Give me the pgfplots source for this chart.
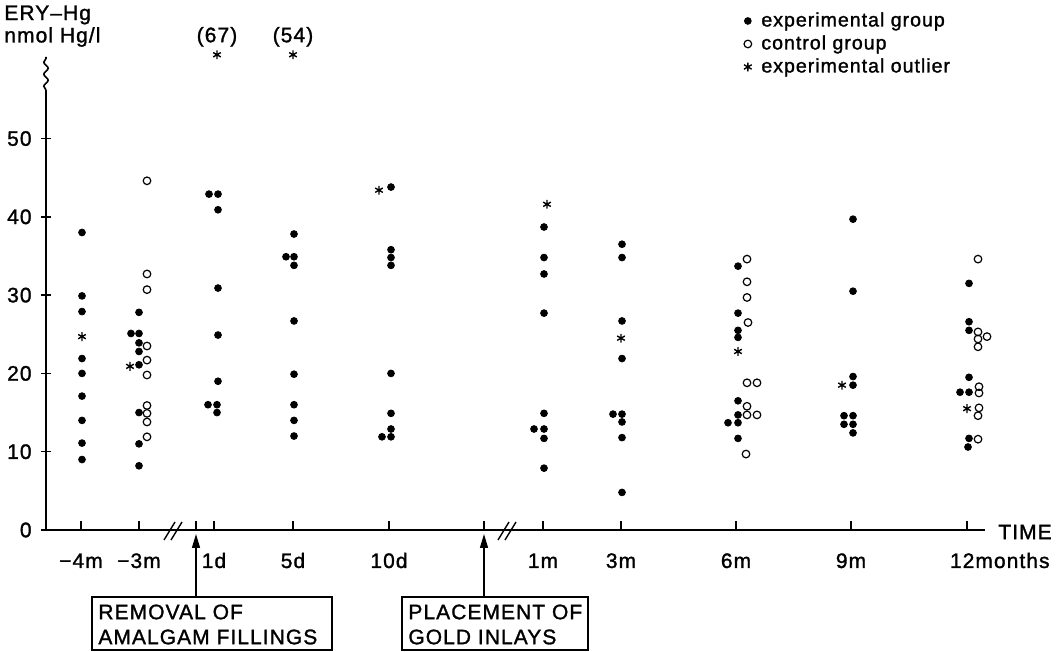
\documentclass[border=0pt]{standalone}
\usepackage{pgfplots}
\usepackage{pgfplotstable}
\pgfplotsset{compat=1.18}
\usepackage{fontspec}
\setmainfont{Liberation Sans}[LetterSpace=5, FakeBold=1.3]
\usetikzlibrary{arrows.meta,decorations.pathmorphing}

\pgfplotstableread{
x y
82 38.0
82 29.9
82 27.9
82 21.9
82 20.0
82 17.1
82 14.0
82 11.1
82 9.0
139 27.8
139 25.1
131 25.1
139 23.9
139 22.8
139 21.1
139 15.0
139 11.0
139 8.2
209 42.9
218 42.9
218 40.9
218 30.9
218 24.9
218 19.0
208 16.0
217 16.0
217 15.0
294 37.8
286 34.9
294 34.9
294 33.8
294 26.7
294 19.9
294 16.0
294 14.0
294 12.0
391 43.8
391 35.8
391 34.8
391 33.8
391 20.0
391 14.9
391 12.9
382 11.9
391 11.9
544 38.7
544 34.8
544 32.7
544 27.7
544 14.9
534 12.9
544 12.9
544 11.7
544 7.9
622 36.5
622 34.8
622 26.7
622 21.9
613 14.8
622 14.8
622 13.8
622 11.8
622 4.8
738 33.7
738 27.7
738 25.5
738 24.6
738 16.5
738 14.7
728 13.7
738 13.7
738 11.7
853 39.7
853 30.5
853 19.6
853 18.5
844 14.6
853 14.6
844 13.5
853 13.5
853 12.4
969 31.5
969 26.6
969 25.5
969 19.5
960 17.6
969 17.6
969 11.7
968 10.6
}\expdata

\pgfplotstableread{
x y
147 44.6
147 32.7
147 30.7
147 23.5
147 21.7
147 19.8
147 15.9
147 14.9
147 13.8
147 11.9
747 34.6
747 31.7
747 29.7
748 26.5
747 18.8
757 18.8
747 15.8
747 14.7
757 14.7
746 9.7
978 34.6
978 25.3
987 24.7
978 24.4
978 23.4
979 18.3
979 17.5
979 15.6
978 14.6
978 11.6
}\ctrldata

\pgfplotstableread{
x y
82 24.7
130 20.9
217 60.7
293 60.7
379 43.4
547 41.6
621 24.5
738 22.8
842 18.5
967 15.5
}\outdata

\begin{document}
\fontsize{10.5}{12.6}\selectfont
\begin{tikzpicture}
\path[use as bounding box] (0,0) rectangle (532pt,326pt);
\begin{axis}[
  at={(23pt,61pt)}, anchor=south west,
  scale only axis, width=469.5pt, height=220pt,
  xmin=46, xmax=985, ymin=0, ymax=56.2,
  axis lines=left, axis line style={-, line width=0.8pt},
  clip=false,
  tick align=inside,
  major tick length=4.5pt,
  every tick/.style={black, line width=0.7pt},
  xtick={81,139,196,214,293,389,484,543,621,736,851,967},
  xticklabels={−4m,−3m,,1d,5d,10d,,1m,3m,6m,9m,\makebox[0pt][l]{\kern-8.5pt 12months}},
  xticklabel style={anchor=base, yshift=-19pt},
  ytick={0,10,20,30,40,50},
  ytick style={xshift=-2.25pt},
  yticklabel style={xshift=-3.5pt},
  /pgf/number format/assume math mode=true,
  legend style={at={(0.7285,1.193)}, anchor=north west, draw=none, fill=none,
    font=\fontsize{9.8}{11.5}\selectfont,
    row sep=0pt, nodes={inner sep=0.5pt, text height=8pt, text depth=2.5pt}},
  legend cell align=left,
  legend image code/.code={\draw[#1] plot coordinates {(0.2cm,0cm)}; \path[draw=none] (0cm,0cm) -- (0.42cm,0cm);},
]
\addplot[only marks, mark=*, mark size=1.7pt, black] table {\expdata};
\addplot[only marks, mark=o, mark size=1.9pt, black, mark options={line width=0.6pt}] table {\ctrldata};
\addplot[only marks, mark=asterisk, mark size=2.2pt, black, mark options={line width=0.7pt}] table {\outdata};
\legend{experimental group, control group, experimental outlier}
\node[anchor=base] at (axis cs:217,62.3) {(67)};
\node[anchor=base] at (axis cs:293,62.3) {(54)};
\end{axis}
\begin{scope}[x=0.5pt, y=-0.5pt, shift={(0pt,326pt)}]
  % y axis break
  \draw[line width=0.8pt, decorate, decoration={snake, amplitude=1.1pt, segment length=6pt}] (46,90) -- (46,57);
  % x axis breaks
  \draw[line width=0.7pt] (164,540) -- (175,522) (171,540) -- (182,522);
  \draw[line width=0.7pt] (498,540) -- (509,522) (505,540) -- (516,522);
  % labels
  \node[anchor=west, inner sep=0pt] at (4,15) {ERY–Hg};
  \node[anchor=west, inner sep=0pt] at (4,37) {nmol Hg/l};
  \node[anchor=west, inner sep=0pt] at (998,532) {TIME};
  % boxes
  \draw[line width=0.7pt] (92,597) rectangle (332,650);
  \node[anchor=west, inner sep=0pt] at (98,612) {REMOVAL OF};
  \node[anchor=west, inner sep=0pt] at (98,637) {AMALGAM FILLINGS};
  \draw[line width=0.7pt] (402,597) rectangle (588,650);
  \node[anchor=west, inner sep=0pt] at (408,612) {PLACEMENT OF};
  \node[anchor=west, inner sep=0pt] at (408,637) {GOLD INLAYS};
  % arrows
  \draw[line width=0.7pt, -{Triangle[length=7pt,width=4pt]}] (196,597) -- (196,534);
  \draw[line width=0.7pt, -{Triangle[length=7pt,width=4pt]}] (484,597) -- (484,534);
\end{scope}
\end{tikzpicture}
\end{document}
